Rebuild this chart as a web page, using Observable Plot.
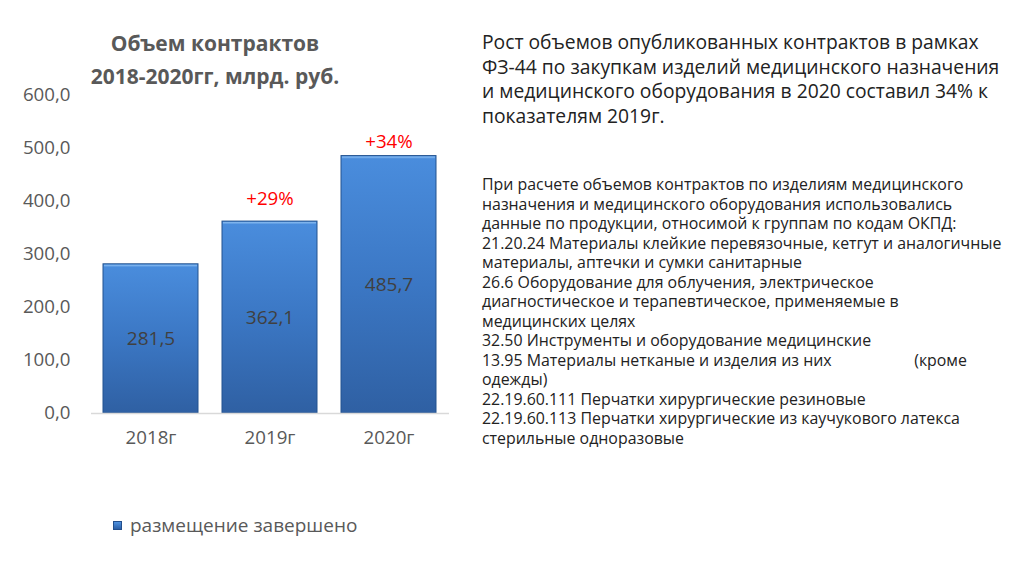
<!DOCTYPE html>
<html><head><meta charset="utf-8">
<script src="https://cdn.jsdelivr.net/npm/d3@7"></script>
<script src="https://cdn.jsdelivr.net/npm/@observablehq/plot@0.6"></script>
<style>
html,body{margin:0;padding:0;background:#fff;}
#page{position:relative;width:1015px;height:575px;overflow:hidden;font-family:"Open Sans",sans-serif;}
#title{position:absolute;left:45px;width:340px;top:27px;text-align:center;font-weight:700;font-size:21px;line-height:33px;color:#595959;}
#chart{position:absolute;left:0;top:0;}
#legend{position:absolute;left:113px;top:512px;font-size:19px;color:#595959;display:flex;align-items:center;}
#legend .sw{width:9px;height:9px;background:linear-gradient(#4f92e0,#2c5fa6);border:1px solid #234f8c;margin-right:8px;box-sizing:border-box;}
#head{position:absolute;left:482px;top:30px;font-family:"Open Sans",sans-serif;font-size:19.3px;line-height:24.5px;color:#222;white-space:pre;}
#note{position:absolute;left:482px;top:175px;font-family:"Open Sans",sans-serif;font-size:15.9px;line-height:19.5px;color:#222;white-space:pre;}
</style></head>
<body><div id="page">
<div id="chart"></div>
<div id="title">Объем контрактов<br>2018-2020гг, млрд. руб.</div>
<div id="legend"><div class="sw"></div><span>размещение завершено</span></div>
<div id="head"></div>
<div id="note"></div>
</div>
<script>
const years = ["2018г", "2019г", "2020г"];
const values = [281.5, 362.1, 485.7];
const growth = ["", "+29%", "+34%"];
const yTicks = [0, 100, 200, 300, 400, 500, 600];
const headLines = [
  "Рост объемов опубликованных контрактов в рамках",
  "ФЗ-44 по закупкам изделий медицинского назначения",
  "и медицинского оборудования в 2020 составил 34% к",
  "показателям 2019г."
];
const noteLines = [
  "При расчете объемов контрактов по изделиям медицинского",
  "назначения и медицинского оборудования использовались",
  "данные по продукции, относимой к группам по кодам ОКПД:",
  "21.20.24 Материалы клейкие перевязочные, кетгут и аналогичные",
  "материалы, аптечки и сумки санитарные",
  "26.6 Оборудование для облучения, электрическое",
  "диагностическое и терапевтическое, применяемые в",
  "медицинских целях",
  "32.50 Инструменты и оборудование медицинские",
  "13.95 Материалы нетканые и изделия из них                    (кроме",
  "одежды)",
  "22.19.60.111 Перчатки хирургические резиновые",
  "22.19.60.113 Перчатки хирургические из каучукового латекса",
  "стерильные одноразовые"
];
document.getElementById("head").textContent = headLines.join("\n");
document.getElementById("note").textContent = noteLines.join("\n");

const data = years.map((y, i) => ({year: y, value: values[i], growth: growth[i]}));
const fmt = d => d.toFixed(1).replace(".", ",");

const plot = Plot.plot({
  width: 470, height: 460,
  marginLeft: 91, marginRight: 21, marginTop: 95, marginBottom: 47,
  style: {fontFamily: "Open Sans, sans-serif", fontSize: "18.7px", color: "#595959", background: "transparent"},
  x: {domain: years, paddingInner: 0.2, paddingOuter: 0.1, label: null, tickSize: 0, tickPadding: 17},
  y: {domain: [0, 600], ticks: yTicks, tickFormat: fmt, label: null, tickSize: 0, tickPadding: 21},
  marks: [
    Plot.barY(data, {x: "year", y: "value", fill: "url(#barGrad)", stroke: "#23528f", strokeWidth: 1}),
    Plot.barY(data, {x: "year", y1: d => d.value, y2: d => d.value - 8, fill: "url(#topGrad)", inset: 1}),
    Plot.ruleY([0], {stroke: "#d9d9d9", strokeWidth: 1.5}),
    Plot.text(data, {x: "year", y: d => d.value / 2, text: d => fmt(d.value), fill: "#404040", fontSize: 19}),
    Plot.text(data.filter(d => d.year === "2019г"), {x: "year", y: "value", text: "growth", fill: "#ff0000", fontSize: 18.7, dy: -23}),
    Plot.text(data.filter(d => d.year === "2020г"), {x: "year", y: "value", text: "growth", fill: "#ff0000", fontSize: 18.7, dy: -14})
  ]
});
const ns = "http://www.w3.org/2000/svg";
const defs = document.createElementNS(ns, "defs");
defs.innerHTML = '<linearGradient id="barGrad" x1="0" y1="0" x2="0" y2="1">' +
  '<stop offset="0" stop-color="#4a8ddd"/><stop offset="0.5" stop-color="#3b77c4"/><stop offset="1" stop-color="#2f60a3"/></linearGradient>' +
  '<linearGradient id="topGrad" x1="0" y1="0" x2="0" y2="1">' +
  '<stop offset="0" stop-color="#8fc0f2"/><stop offset="1" stop-color="#4a8ddd"/></linearGradient>';
plot.insertBefore(defs, plot.firstChild);
document.getElementById("chart").appendChild(plot);
</script>
</body></html>
